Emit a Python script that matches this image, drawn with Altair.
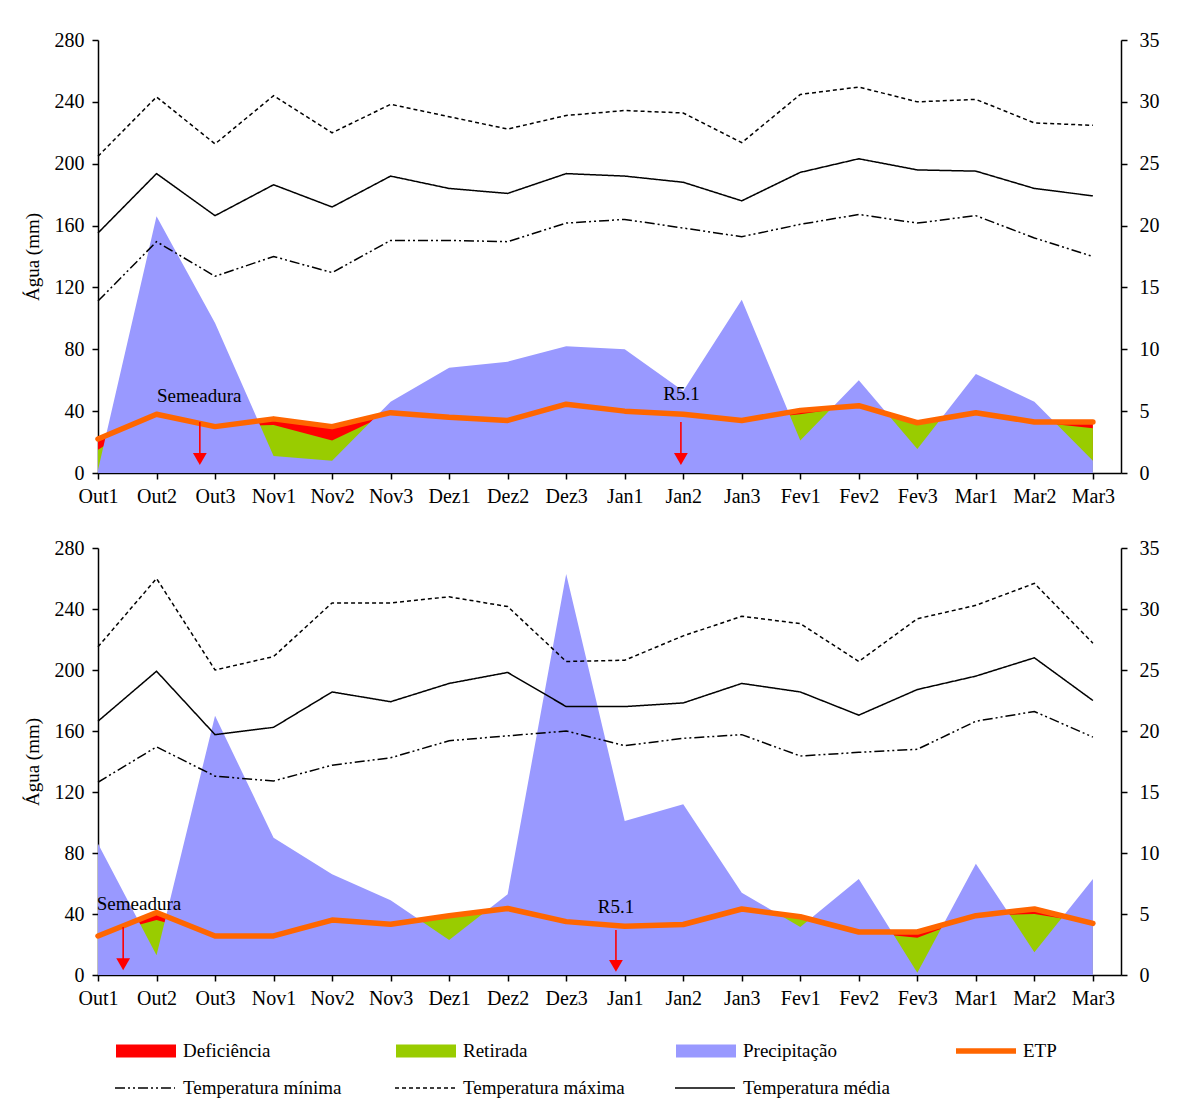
import altair as alt
import pandas as pd

cats = ["Out1", "Out2", "Out3", "Nov1", "Nov2", "Nov3", "Dez1", "Dez2", "Dez3",
        "Jan1", "Jan2", "Jan3", "Fev1", "Fev2", "Fev3", "Mar1", "Mar2", "Mar3"]

# ---- Panel 1 (top) ----
p1_prec = [2, 166, 97, 11, 8, 46, 68, 72, 82, 80, 53, 112, 21, 60, 15.5, 64, 46, 8]
p1_etp = [22, 38, 30, 35, 30, 39, 36, 34, 44.5, 40, 38, 34, 40.5, 43.5, 32.5, 39, 33, 33]
p1_etr = [15, 38, 30, 31, 21, 39, 36, 34, 44.5, 40, 38, 34, 38, 43.5, 32.5, 39, 33, 29]
p1_tmin = [13.9, 18.7, 15.9, 17.5, 16.2, 18.8, 18.8, 18.7, 20.2, 20.5, 19.8, 19.1, 20.1, 20.9, 20.2, 20.8, 19.0, 17.5]
p1_tmax = [25.6, 30.4, 26.6, 30.5, 27.5, 29.8, 28.8, 27.8, 28.9, 29.3, 29.1, 26.7, 30.6, 31.2, 30.0, 30.2, 28.3, 28.1]
p1_tmed = [19.4, 24.2, 20.8, 23.3, 21.5, 24.0, 23.0, 22.6, 24.2, 24.0, 23.5, 22.0, 24.3, 25.4, 24.5, 24.4, 23.0, 22.4]
p1_mark_x = [1.74, 9.96]
p1_mark_top = [33, 33]
p1_mark_head = [9, 9]
p1_mark_label = ["Semeadura", "R5.1"]
p1_mark_tx = [1.73, 9.97]
p1_mark_ty = [50, 51]

# ---- Panel 2 (bottom) ----
p2_prec = [86, 13, 170, 90, 66, 49, 23, 53, 263, 101, 112, 54, 31.5, 63, 1.5, 73, 15, 63]
p2_etp = [25.6, 41, 25.6, 25.6, 36, 33.3, 38.9, 43.6, 35, 32, 33.1, 43.3, 38.2, 28.2, 28.2, 38.9, 43.3, 33.8]
p2_etr = [25.6, 36, 25.6, 25.6, 36, 33.3, 38.9, 43.6, 35, 32, 33.1, 43.3, 38.2, 28.2, 24.5, 38.9, 40, 33.8]
p2_tmin = [15.8, 18.7, 16.3, 15.9, 17.2, 17.8, 19.2, 19.6, 20.0, 18.8, 19.4, 19.7, 17.95, 18.25, 18.5, 20.8, 21.6, 19.5]
p2_tmax = [26.9, 32.5, 25.0, 26.1, 30.5, 30.5, 31.0, 30.2, 25.7, 25.8, 27.8, 29.4, 28.8, 25.7, 29.2, 30.3, 32.1, 27.2]
p2_tmed = [20.8, 24.9, 19.7, 20.3, 23.2, 22.4, 23.9, 24.8, 22.0, 22.0, 22.3, 23.9, 23.2, 21.3, 23.4, 24.5, 26.0, 22.5]
p2_mark_x = [0.43, 8.85]
p2_mark_top = [31.5, 29.5]
p2_mark_head = [7, 6]
p2_mark_label = ["Semeadura", "R5.1"]
p2_mark_tx = [0.70, 8.85]
p2_mark_ty = [46.5, 44.6]

water_names = ["Deficiência", "Retirada", "Precipitação", "ETP"]
water_colors = ["#FF0000", "#99CC00", "#9999FF", "#FF6600"]
temp_names = ["Temperatura mínima", "Temperatura máxima", "Temperatura média"]
temp_dashes = [[10, 3, 2, 3, 2, 3], [4, 3], [1, 0]]

FONT = "Liberation Serif"
XMAX = 17.48
W = 1023

label_expr = "[" + ",".join("'" + c + "'" for c in cats) + "][datum.value]"

color_scale = alt.Scale(domain=water_names, range=water_colors)
dash_scale = alt.Scale(domain=temp_names, range=temp_dashes)

color_legend = alt.Legend(
    orient="none", legendX=18, legendY=981, direction="horizontal", columns=4,
    title=None,
    symbolType={"expr": "datum.value == 'ETP' ? 'M-1,-0.09H1V0.09H-1Z' : 'M-1,-0.22H1V0.22H-1Z'"},
    symbolSize=3600, symbolStrokeWidth=0, symbolOpacity=1,
    labelFont=FONT, labelFontSize=19, labelColor="black", labelOffset=7,
    labelLimit=300, gridAlign="all", columnPadding=119,
)
dash_legend = alt.Legend(
    orient="none", legendX=16, legendY=1017, direction="horizontal", columns=3,
    title=None, symbolType="stroke", symbolSize=3600, symbolStrokeColor="black",
    symbolStrokeWidth=1.6, labelFont=FONT, labelFontSize=19, labelColor="black",
    labelOffset=7, labelLimit=300, gridAlign="all", columnPadding=46,
)


def panel(prec, etp, etr, tmin, tmax, tmed, mx, mtop, mhead, mlab, mtx, mty, height):
    df = pd.DataFrame({
        "idx": list(range(len(cats))), "cat": cats, "P": prec, "ETP": etp, "ETR": etr,
        "tmin": tmin, "tmax": tmax, "tmed": tmed,
    })
    marks = pd.DataFrame({"x": mx, "top": mtop, "head": mhead, "label": mlab,
                          "tx": mtx, "ty": mty})
    x = alt.X("idx:Q", scale=alt.Scale(domain=[0, XMAX], nice=False, zero=False),
              axis=alt.Axis(values=list(range(len(cats))), labelExpr=label_expr,
                            title=None, labelPadding=7, labelFlush=False,
                            labelOverlap=False))
    left_axis = alt.Axis(values=list(range(0, 281, 40)), title="Água (mm)",
                         titlePadding=12, labelPadding=8)
    yscale = alt.Scale(domain=[0, 280], nice=False)
    base = alt.Chart(df)

    def area(field, name):
        return base.transform_calculate(series="'" + name + "'").mark_area(
            opacity=1, strokeWidth=0).encode(
            x=x,
            y=alt.Y(field + ":Q", scale=yscale, axis=left_axis),
            color=alt.Color("series:N", scale=color_scale, legend=color_legend),
        )

    red = area("ETP", water_names[0])
    green = area("ETR", water_names[1])
    blue = area("P", water_names[2])
    etp_line = base.transform_calculate(series="'ETP'").mark_line(
        strokeWidth=5.5, strokeCap="round", strokeJoin="round").encode(
        x=x, y=alt.Y("ETP:Q", scale=yscale, axis=left_axis),
        color=alt.Color("series:N", scale=color_scale, legend=color_legend),
    )
    mx_enc = alt.X("x:Q", scale=alt.Scale(domain=[0, XMAX], nice=False, zero=False))
    arrow = alt.Chart(marks).mark_rule(color="#FF0000", strokeWidth=1.6).encode(
        x=mx_enc, y=alt.Y("top:Q", scale=yscale, axis=left_axis), y2="head:Q")
    head = alt.Chart(marks).mark_point(shape="triangle-down", filled=True, size=190,
                                       color="#FF0000", opacity=1).encode(
        x=mx_enc, y=alt.Y("head:Q", scale=yscale, axis=left_axis))
    text = alt.Chart(marks).mark_text(font=FONT, fontSize=19, color="black").encode(
        x=alt.X("tx:Q", scale=alt.Scale(domain=[0, XMAX], nice=False, zero=False)),
        y=alt.Y("ty:Q", scale=yscale, axis=left_axis), text="label:N")

    left = alt.layer(red, green, blue, etp_line, arrow, head, text)

    right_axis = alt.Axis(orient="right", values=list(range(0, 36, 5)), title=None,
                          labelPadding=12)
    tscale = alt.Scale(domain=[0, 35], nice=False)

    def tline(field, name):
        return base.transform_calculate(tserie="'" + name + "'").mark_line(
            color="black", strokeWidth=1.5).encode(
            x=x,
            y=alt.Y(field + ":Q", scale=tscale, axis=right_axis),
            strokeDash=alt.StrokeDash("tserie:N", scale=dash_scale, legend=dash_legend),
        )

    right = alt.layer(tline("tmin", temp_names[0]), tline("tmax", temp_names[1]),
                      tline("tmed", temp_names[2]))
    return alt.layer(left, right).resolve_scale(y="independent").properties(
        width=W, height=height)


top = panel(p1_prec, p1_etp, p1_etr, p1_tmin, p1_tmax, p1_tmed,
            p1_mark_x, p1_mark_top, p1_mark_head, p1_mark_label, p1_mark_tx, p1_mark_ty, 433)
bottom = panel(p2_prec, p2_etp, p2_etr, p2_tmin, p2_tmax, p2_tmed,
               p2_mark_x, p2_mark_top, p2_mark_head, p2_mark_label, p2_mark_tx, p2_mark_ty, 427)

chart = alt.vconcat(top, bottom, spacing=32).resolve_scale(
    color="shared", strokeDash="shared"
).properties(
    padding={"left": 15, "top": 22, "right": 10, "bottom": 10}
).configure_view(stroke=None).configure_axis(
    grid=False, domainColor="black", domainWidth=1.5, tickColor="black",
    tickWidth=1.5, tickSize=6, labelFont=FONT, labelFontSize=20, labelColor="black",
    titleFont=FONT, titleFontSize=19, titleFontWeight="normal", titleColor="black",
)

chart.save("out.html", embed_options={"renderer": "svg", "actions": False})
